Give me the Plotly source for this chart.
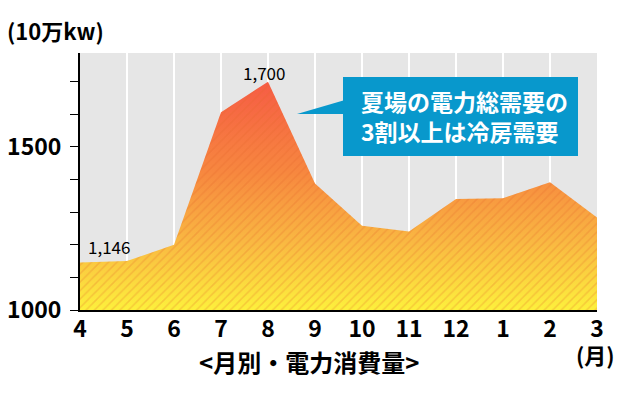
import plotly.graph_objects as go

months = ["4", "5", "6", "7", "8", "9", "10", "11", "12", "1", "2", "3"]
demand = [1146, 1150, 1200, 1606, 1700, 1388, 1258, 1241, 1340, 1343, 1392, 1284]
ytick_vals = [1000, 1100, 1200, 1300, 1400, 1500, 1600, 1700]
ytick_text = ["1000", "", "", "", "", "1500", "", ""]
labels = {0: "1,146", 4: "1,700"}
callout = "夏場の電力総需要の<br>3割以上は冷房需要"

OFF = 8  # page body margin
W, H = 627 - OFF, 395 - OFF
L, T = 80 - OFF, 53 - OFF
pw, ph = 517, 257
R, B = W - L - pw, H - T - ph
def px(x): return (x - OFF - L) / pw
def py(y): return (T + ph - (y - OFF)) / ph

JP = "Noto Sans CJK JP"
xs = list(range(len(months)))

fig = go.Figure()
fig.add_trace(go.Scatter(
    x=xs, y=demand, mode="lines", line=dict(width=0, color="rgba(0,0,0,0)"),
    fill="tozeroy",
    fillgradient=dict(type="vertical", start=1000, stop=1700,
                      colorscale=[[0, "#FDF03C"], [0.3, "#F9B842"], [0.6, "#F7883F"], [1, "#F65C45"]]),
    hoverinfo="skip", showlegend=False))
fig.add_trace(go.Scatter(
    x=xs, y=demand, mode="lines", line=dict(width=0, color="rgba(0,0,0,0)"),
    fill="tozeroy", fillcolor="rgba(0,0,0,0)",
    fillpattern=dict(shape="/", size=6, solidity=0.25, fgcolor="rgba(225,100,40,0.5)",
                     bgcolor="rgba(0,0,0,0)"),
    hoverinfo="skip", showlegend=False))

fig.update_layout(
    width=W, height=H, margin=dict(l=L, r=R, t=T, b=B, autoexpand=False),
    paper_bgcolor="white", plot_bgcolor="#E6E6E6",
    font=dict(family=JP, color="black"),
    xaxis=dict(range=[0, len(months) - 1], tickvals=xs, ticktext=months,
               showgrid=True, gridcolor="white", gridwidth=1.5,
               showline=True, linecolor="black", linewidth=2,
               ticks="", tickfont=dict(family=JP, size=23, weight=700, color="black"),
               ticklabelstandoff=-3,
               zeroline=False, fixedrange=True, automargin=False),
    yaxis=dict(range=[1000, 1788], tickvals=ytick_vals, ticktext=ytick_text,
               showgrid=False, showline=True, linecolor="black", linewidth=2,
               ticks="outside", ticklen=8, tickwidth=1, tickcolor="black",
               tickfont=dict(family=JP, size=23, weight=700, color="black"),
               ticklabelstandoff=4,
               zeroline=False, fixedrange=True, automargin=False),
)

# callout box with pointer
fig.add_shape(type="path", xref="paper", yref="paper",
              path=f"M {px(297)} {py(114)} L {px(345)} {py(100)} L {px(345)} {py(114)} Z",
              fillcolor="#0898CC", line=dict(width=0))
fig.add_shape(type="rect", xref="paper", yref="paper",
              x0=px(343), x1=px(578), y0=py(156), y1=py(77),
              fillcolor="#0898CC", line=dict(width=0))
fig.add_annotation(xref="paper", yref="paper", x=px(359), y=py(116),
                   xanchor="left", yanchor="middle", align="left", showarrow=False,
                   text=f"<b>{callout}</b>", font=dict(family=JP, size=23, color="white"))

# data labels
fig.add_annotation(x=0, y=demand[0], text=labels[0], showarrow=False, xshift=29, yshift=16,
                   font=dict(family=JP, size=17, color="black"))
fig.add_annotation(x=4, y=demand[4], text=labels[4], showarrow=False, xshift=-4, yshift=9,
                   font=dict(family=JP, size=17, color="black"))

# texts
fig.add_annotation(xref="paper", yref="paper", x=px(5), y=py(30), xanchor="left", yanchor="middle",
                   showarrow=False, text="<b>(10万kw)</b>", font=dict(family=JP, size=22))
fig.add_annotation(xref="paper", yref="paper", x=px(595), y=py(354), xanchor="center", yanchor="middle",
                   showarrow=False, text="<b>(月)</b>", font=dict(family=JP, size=22))
fig.add_annotation(xref="paper", yref="paper", x=px(309), y=py(361), xanchor="center", yanchor="middle",
                   showarrow=False, text="<b><月別・電力消費量></b>", font=dict(family=JP, size=24))

fig.write_html("out.html")
